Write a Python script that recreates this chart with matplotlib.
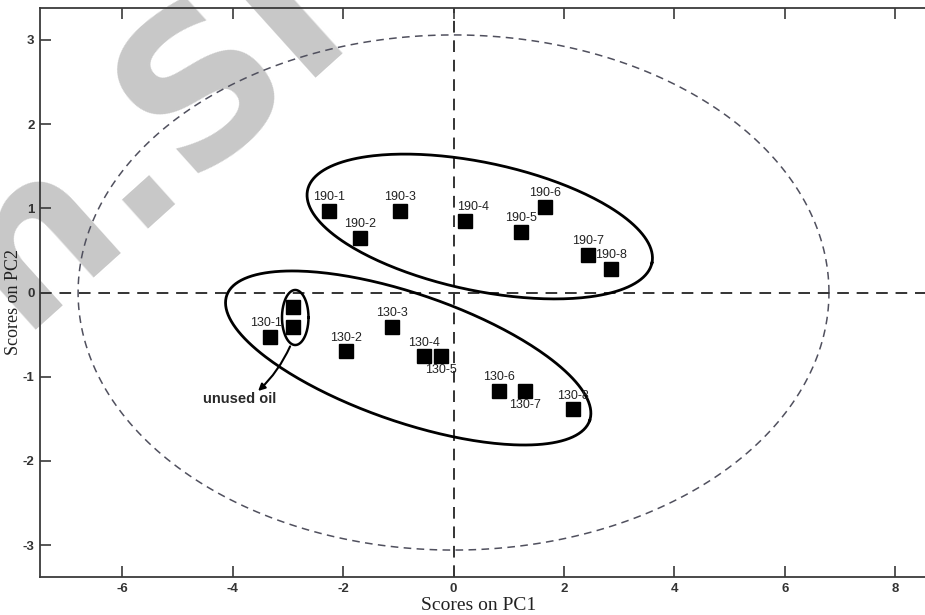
import numpy as np
import matplotlib
matplotlib.use('Agg')
import matplotlib.pyplot as plt

plt.rcParams['axes.unicode_minus'] = False

# PCA scores, used oil heated at 190 and 130 degrees
names_190 = ['190-1', '190-2', '190-3', '190-4', '190-5', '190-6', '190-7', '190-8']
pc1_190 = [-2.26, -1.69, -0.97, 0.21, 1.22, 1.65, 2.43, 2.85]
pc2_190 = [0.97, 0.65, 0.97, 0.85, 0.72, 1.02, 0.45, 0.28]

names_130 = ['130-1', '130-2', '130-3', '130-4', '130-5', '130-6', '130-7', '130-8']
pc1_130 = [-3.33, -1.94, -1.11, -0.54, -0.23, 0.83, 1.30, 2.16]
pc2_130 = [-0.53, -0.70, -0.41, -0.76, -0.76, -1.17, -1.17, -1.39]

# fresh oil replicates
pc1_unused = [-2.91, -2.90]
pc2_unused = [-0.17, -0.41]

# 95% confidence limit (semi-axes on PC1, PC2)
lim_pc1, lim_pc2 = 6.8, 3.06

xticks = [-6, -4, -2, 0, 2, 4, 6, 8]
yticks = [-3, -2, -1, 0, 1, 2, 3]


def ring(c, u, v, n=300):
    # closed curve from a centre and two conjugate half-axes
    t = np.linspace(0, 2 * np.pi, n)
    return (c[0] + u[0] * np.cos(t) + v[0] * np.sin(t),
            c[1] + u[1] * np.cos(t) + v[1] * np.sin(t))


fig = plt.figure(figsize=(9.25, 6.15), dpi=100)
ax = fig.add_axes([40 / 925, 38 / 615, 890 / 925, 569 / 615])
ax.set_facecolor('none')

# watermark across the upper left
fig.text(18 / 925, 1 - 330 / 615, 'n.Sl', rotation=42, rotation_mode='anchor',
         ha='left', va='baseline', fontsize=150, fontweight='bold',
         family='DejaVu Sans', color='#c8c8c8', zorder=-5)

# confidence ellipse and origin lines
ex, ey = ring((0, 0), (lim_pc1, 0), (0, lim_pc2))
ax.plot(ex, ey, ls=(0, (5, 3.5)), color='#50505e', lw=1.1, zorder=1)
ax.axhline(0, ls=(0, (6, 4)), color='#333333', lw=1.4, zorder=1)
ax.axvline(0, ls=(0, (6, 4)), color='#333333', lw=1.4, zorder=1)

# group outlines
gx, gy = ring((0.475, 0.784), (3.119, -0.432), (-0.240, -0.744))
ax.plot(gx, gy, color='black', lw=2.0, zorder=2)
gx, gy = ring((-0.821, -0.778), (3.287, -0.743), (-0.377, -0.719))
ax.plot(gx, gy, color='black', lw=2.0, zorder=2)
gx, gy = ring((-2.867, -0.297), (0.24, 0), (0, 0.327))
ax.plot(gx, gy, color='black', lw=1.8, zorder=2)

mk = dict(marker='s', ms=9.5, color='black', ls='none', zorder=4)
ax.plot(pc1_190, pc2_190, **mk)
ax.plot(pc1_130, pc2_130, **mk)
ax.plot(pc1_unused, pc2_unused, **mk)

below = ['130-5', '130-7']
shift = {'190-4': 6, '130-1': -3}
lab = dict(fontsize=9, color='#222222', family='Liberation Sans',
           ha='center', va='center', zorder=5)
for nm, x, y in list(zip(names_190, pc1_190, pc2_190)) + list(zip(names_130, pc1_130, pc2_130)):
    dy = -10 if nm in below else 10
    ax.annotate(nm, (x, y), xytext=(shift.get(nm, 0), dy),
                textcoords='offset points', **lab)

ax.annotate('', xy=(-3.54, -1.17), xytext=(-2.96, -0.64),
            arrowprops=dict(arrowstyle='-|>', color='black', lw=1.5,
                            mutation_scale=10, shrinkA=0, shrinkB=0,
                            connectionstyle='arc3,rad=-0.1'))
ax.text(-3.88, -1.27, 'unused oil', fontsize=10.5, color='#2a2a2a',
        family='Liberation Sans', fontweight='bold', ha='center', va='center')

ax.set_xlim(-7.49, 8.63)
ax.set_ylim(-3.38, 3.38)
ax.set_xticks(xticks)
ax.set_yticks(yticks)
ax.tick_params(direction='in', length=8, width=1.2, color='#3a3a3a',
               top=True, right=False, pad=4)
for lbl in ax.get_xticklabels() + ax.get_yticklabels():
    lbl.set_family('Liberation Sans')
    lbl.set_fontweight('bold')
    lbl.set_fontsize(9.5)
    lbl.set_color('#333333')
for s in ax.spines.values():
    s.set_color('#3a3a3a')
    s.set_linewidth(1.3)

fig.text(479 / 925, 1 - 605 / 615, 'Scores on PC1', family='Liberation Serif',
         fontsize=14, ha='center', va='center', color='#222222')
fig.text(14 / 925, 1 - 302 / 615, 'Scores on PC2', family='Liberation Serif',
         fontsize=13, ha='center', va='center', rotation=90, color='#222222')

fig.savefig('out.png', dpi=100)
